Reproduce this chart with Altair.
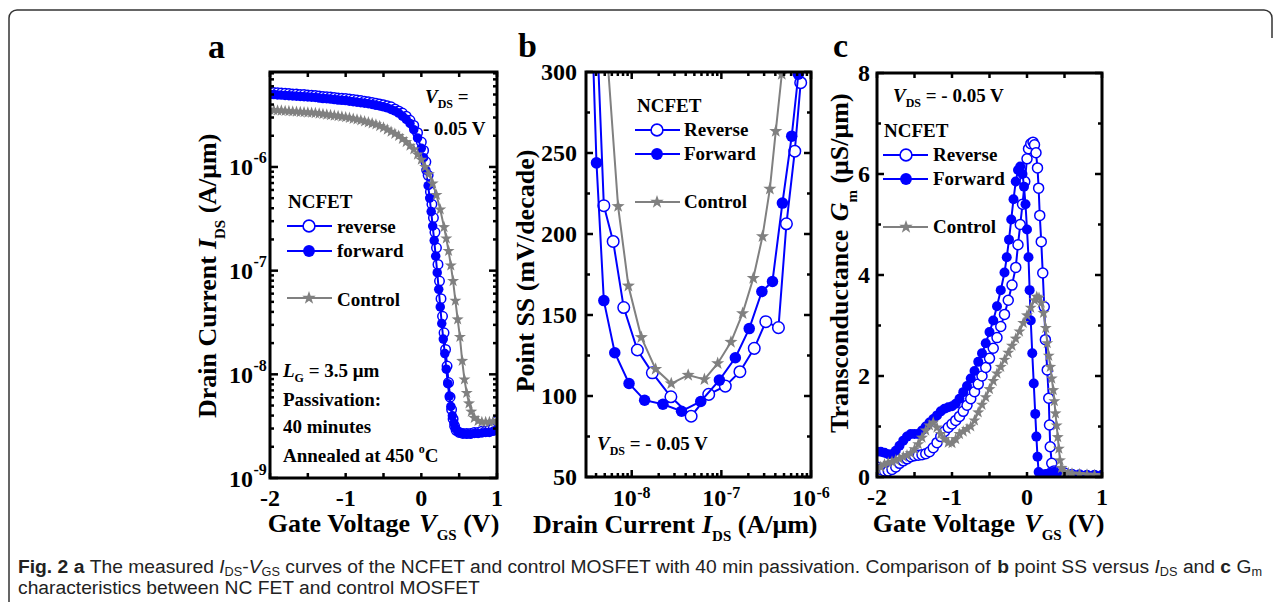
import math
import altair as alt
import pandas as pd

SERIF = "Liberation Serif"
SANS = "Liberation Sans"
BLUE = "#0000ff"
GRAY = "#808080"
STAR = "M0,-1L0.235,-0.324L0.951,-0.309L0.38,0.124L0.588,0.809L0,0.4L-0.588,0.809L-0.38,0.124L-0.951,-0.309L-0.235,-0.324Z"

# ---------------- panel a : log10(I_DS [A/um]) versus V_GS [V] ----------------
a_rev_v = [-2.0, -1.95, -1.9, -1.85, -1.8, -1.75, -1.7, -1.65, -1.6, -1.55,
           -1.5, -1.45, -1.4, -1.35, -1.3, -1.25, -1.2, -1.15, -1.1, -1.05,
           -1.0, -0.95, -0.9, -0.85, -0.8, -0.75, -0.7, -0.65, -0.6, -0.55, -0.5,
           -0.45, -0.4, -0.35, -0.3, -0.25, -0.2, -0.15, -0.1, -0.05, 0.0,
           0.03, 0.06, 0.09, 0.12, 0.14, 0.16, 0.18, 0.2, 0.22, 0.24,
           0.26, 0.28, 0.3, 0.32, 0.34, 0.36, 0.38, 0.4, 0.42, 0.44,
           0.46, 0.5, 0.55, 0.6, 0.65, 0.7, 0.75, 0.8, 0.85, 0.9, 0.95, 1.0]
a_rev_log = [-5.28, -5.282, -5.285, -5.287, -5.29, -5.292, -5.295, -5.297, -5.30, -5.302,
             -5.305, -5.307, -5.31, -5.315, -5.32, -5.322, -5.325, -5.33, -5.335, -5.337,
             -5.34, -5.345, -5.35, -5.355, -5.36, -5.365, -5.37, -5.377, -5.385, -5.392, -5.40,
             -5.41, -5.42, -5.44, -5.46, -5.48, -5.51, -5.55, -5.60, -5.67, -5.76,
             -5.84, -5.95, -6.08, -6.24, -6.36, -6.49, -6.63, -6.78, -6.94, -7.10,
             -7.27, -7.44, -7.60, -7.76, -7.92, -8.08, -8.22, -8.34, -8.43, -8.50,
             -8.54, -8.56, -8.57, -8.57, -8.57, -8.56, -8.56, -8.55, -8.55, -8.54, -8.52, -8.45]
a_fwd_v = [-2.0, -1.95, -1.9, -1.85, -1.8, -1.75, -1.7, -1.65, -1.6, -1.55,
           -1.5, -1.45, -1.4, -1.35, -1.3, -1.25, -1.2, -1.15, -1.1, -1.05,
           -1.0, -0.95, -0.9, -0.85, -0.8, -0.75, -0.7, -0.65, -0.6, -0.55, -0.5,
           -0.45, -0.4, -0.35, -0.3, -0.25, -0.2, -0.15, -0.1, -0.05, 0.0,
           0.03, 0.06, 0.09, 0.11, 0.13, 0.15, 0.17, 0.19, 0.21, 0.23,
           0.25, 0.27, 0.29, 0.31, 0.33, 0.35, 0.37, 0.39, 0.41, 0.43,
           0.45, 0.48, 0.5, 0.55, 0.6, 0.65, 0.7, 0.75, 0.8, 0.85, 0.9, 0.95, 1.0]
a_fwd_log = [-5.30, -5.302, -5.305, -5.307, -5.31, -5.312, -5.315, -5.317, -5.32, -5.322,
             -5.325, -5.327, -5.33, -5.335, -5.34, -5.342, -5.345, -5.35, -5.355, -5.357,
             -5.36, -5.365, -5.37, -5.375, -5.38, -5.385, -5.39, -5.397, -5.405, -5.412, -5.42,
             -5.43, -5.445, -5.46, -5.48, -5.51, -5.54, -5.58, -5.64, -5.72, -5.82,
             -5.91, -6.03, -6.18, -6.30, -6.43, -6.57, -6.71, -6.86, -7.02, -7.18,
             -7.35, -7.51, -7.66, -7.80, -7.95, -8.09, -8.21, -8.31, -8.40, -8.47,
             -8.52, -8.55, -8.56, -8.57, -8.575, -8.575, -8.57, -8.57, -8.565, -8.56, -8.56, -8.55, -8.53]
a_ctl_v = [-2.0, -1.95, -1.9, -1.85, -1.8, -1.75, -1.7, -1.65, -1.6, -1.55,
           -1.5, -1.45, -1.4, -1.35, -1.3, -1.25, -1.2, -1.15, -1.1, -1.05,
           -1.0, -0.95, -0.9, -0.85, -0.8, -0.75, -0.7, -0.65, -0.6, -0.55, -0.5,
           -0.45, -0.4, -0.35, -0.3, -0.25, -0.2, -0.15, -0.1, -0.05, 0.0,
           0.05, 0.1, 0.15, 0.2, 0.25, 0.3, 0.33, 0.36, 0.39, 0.42,
           0.45, 0.48, 0.51, 0.54, 0.57, 0.6, 0.63, 0.66, 0.7, 0.75,
           0.8, 0.85, 0.9, 0.95, 1.0]
a_ctl_log = [-5.45, -5.452, -5.455, -5.457, -5.46, -5.462, -5.465, -5.467, -5.47, -5.472,
             -5.475, -5.477, -5.48, -5.485, -5.49, -5.495, -5.50, -5.505, -5.51, -5.515,
             -5.52, -5.527, -5.535, -5.542, -5.55, -5.56, -5.57, -5.58, -5.59, -5.605, -5.62,
             -5.64, -5.66, -5.68, -5.70, -5.73, -5.76, -5.795, -5.83, -5.88, -5.93,
             -6.00, -6.07, -6.16, -6.27, -6.41, -6.58, -6.69, -6.81, -6.95, -7.10,
             -7.29, -7.47, -7.64, -7.87, -8.05, -8.18, -8.28, -8.36, -8.42, -8.45,
             -8.46, -8.46, -8.46, -8.455, -8.45]

# ---------------- panel b : point SS [mV/dec] versus log10(I_DS) ----------------
b_rev_log = [-8.37, -8.311, -8.207, -8.089, -7.937, -7.770, -7.563, -7.337, -7.141,
             -6.956, -6.793, -6.633, -6.504, -6.363, -6.274, -6.181, -6.115]
b_rev_ss = [312, 217.5, 195.4, 154.6, 128.4, 114.3, 99.5, 87.5, 101.0,
            106.1, 115.0, 129.4, 145.9, 142.2, 206.3, 251.1, 293.4]
b_fwd_log = [-8.426, -8.393, -8.311, -8.189, -8.030, -7.856, -7.652, -7.444, -7.230,
             -7.022, -6.844, -6.689, -6.548, -6.430, -6.319, -6.215, -6.141]
b_fwd_ss = [316, 243.9, 158.9, 126.7, 107.7, 97.4, 94.9, 90.6, 96.6,
            109.8, 123.6, 141.6, 164.5, 170.7, 219.1, 260.4, 298.6]
b_ctl_log = [-8.26, -8.152, -8.037, -7.893, -7.733, -7.559, -7.370, -7.189,
             -7.041, -6.893, -6.763, -6.644, -6.541, -6.459, -6.393, -6.326]
b_ctl_ss = [314, 217.1, 168.0, 136.2, 116.6, 107.7, 112.9, 110.2,
            120.1, 133.3, 151.0, 172.7, 198.5, 227.8, 263.5, 298.6]

# ---------------- panel c : G_m [uS/um] versus V_GS [V] ----------------
c_rev_v = [-2.0, -1.95, -1.9, -1.85, -1.8, -1.75, -1.7, -1.65, -1.6, -1.55,
           -1.5, -1.45, -1.4, -1.35, -1.3, -1.25, -1.2, -1.15, -1.1, -1.05,
           -1.0, -0.95, -0.9, -0.85, -0.8, -0.75, -0.7, -0.65, -0.6, -0.55,
           -0.5, -0.45, -0.4, -0.35, -0.3, -0.25, -0.2, -0.15,
           -0.12, -0.09, -0.06, -0.03, 0.0, 0.02, 0.05, 0.08, 0.1, 0.12,
           0.14, 0.155, 0.17, 0.19, 0.21, 0.23, 0.245, 0.27, 0.29, 0.30,
           0.31, 0.33, 0.36, 0.4, 0.45, 0.5, 0.6, 0.7, 0.8, 0.9, 1.0]
c_rev_gm = [0.2, 0.15, 0.12, 0.12, 0.15, 0.2, 0.27, 0.32, 0.36, 0.4,
            0.42, 0.43, 0.44, 0.46, 0.5, 0.58, 0.68, 0.8, 0.9, 0.98,
            1.05, 1.12, 1.2, 1.3, 1.42, 1.55, 1.69, 1.84, 2.0, 2.17,
            2.35, 2.55, 2.76, 2.98, 3.22, 3.5, 3.8, 4.15,
            4.6, 5.0, 5.4, 5.85, 6.3, 6.5, 6.6, 6.63, 6.58, 6.42,
            6.12, 5.72, 5.18, 4.66, 4.04, 3.37, 2.72, 2.12, 1.56, 1.03,
            0.6, 0.27, 0.12, 0.1, 0.1, 0.08, 0.05, 0.04, 0.03, 0.03, 0.03]
c_fwd_v = [-2.0, -1.95, -1.9, -1.85, -1.8, -1.75, -1.7, -1.65, -1.6, -1.55,
           -1.5, -1.45, -1.4, -1.35, -1.3, -1.25, -1.2, -1.15, -1.1, -1.05,
           -1.0, -0.95, -0.9, -0.85, -0.8, -0.75, -0.7, -0.65, -0.6, -0.55,
           -0.5, -0.45, -0.4, -0.35, -0.3,
           -0.27, -0.24, -0.21, -0.18, -0.15, -0.12, -0.09, -0.06, -0.04, -0.02,
           0.0, 0.02, 0.035, 0.05, 0.07, 0.09, 0.11, 0.125, 0.14, 0.155,
           0.2, 0.25, 0.3, 0.35, 0.4, 0.5, 0.6, 0.7, 0.8, 0.9, 1.0]
c_fwd_gm = [0.5, 0.5, 0.48, 0.45, 0.45, 0.52, 0.62, 0.72, 0.8, 0.85,
            0.85, 0.85, 0.92, 1.0, 1.08, 1.15, 1.22, 1.3, 1.35, 1.38,
            1.4, 1.45, 1.55, 1.68, 1.8, 1.95, 2.1, 2.28, 2.45, 2.65,
            2.87, 3.1, 3.38, 3.7, 4.05,
            4.35, 4.7, 5.1, 5.5, 5.85, 6.08, 6.15, 6.0, 5.75, 5.4,
            4.9, 4.35, 3.7, 3.1, 2.45, 1.85, 1.25, 0.8, 0.4, 0.1,
            0.05, 0.06, 0.08, 0.1, 0.07, 0.04, 0.03, 0.03, 0.03, 0.03, 0.03]
c_ctl_v = [-2.0, -1.95, -1.9, -1.85, -1.8, -1.75, -1.7, -1.65, -1.6, -1.55,
           -1.5, -1.45, -1.4, -1.35, -1.3, -1.25, -1.2, -1.15, -1.1, -1.05,
           -1.0, -0.95, -0.9, -0.85, -0.8, -0.75, -0.7, -0.65, -0.6, -0.55,
           -0.5, -0.45, -0.4, -0.35, -0.3, -0.25, -0.2, -0.15, -0.1, -0.05,
           0.0, 0.05, 0.1, 0.13, 0.16, 0.19, 0.22, 0.25, 0.27, 0.29,
           0.31, 0.33, 0.35, 0.365, 0.38, 0.395, 0.41, 0.425, 0.44, 0.46,
           0.5, 0.55, 0.6, 0.7, 0.8, 0.9, 1.0]
c_ctl_gm = [0.15, 0.2, 0.25, 0.28, 0.3, 0.33, 0.36, 0.4, 0.43, 0.47,
            0.55, 0.65, 0.78, 0.92, 1.02, 1.08, 0.98, 0.85, 0.75, 0.68,
            0.67, 0.75, 0.85, 0.9, 0.95, 1.0, 1.12, 1.28, 1.43, 1.58,
            1.74, 1.9, 2.05, 2.18, 2.32, 2.46, 2.6, 2.74, 2.88, 3.05,
            3.2, 3.35, 3.5, 3.57, 3.55, 3.45, 3.25, 2.95, 2.65, 2.4,
            2.18, 1.95, 1.72, 1.5, 1.26, 1.02, 0.79, 0.56, 0.33, 0.18,
            0.1, 0.08, 0.07, 0.06, 0.05, 0.04, 0.03]

# ---------------- tick labels ----------------
a_x_labels = [-2, -1, 0, 1]
a_y_decades = [-9, -8, -7, -6]
b_x_decades = [-8, -7, -6]
b_y_labels = [50, 100, 150, 200, 250, 300]
c_x_labels = [-2, -1, 0, 1]
c_y_labels = [0, 2, 4, 6, 8]

# ---------------- scales (explicit pixel ranges per panel) ----------------
A_TOP = -5.084
A_X = alt.Scale(domain=[-2, 1], range=[262, 489], nice=False, zero=False)
A_Y = alt.Scale(domain=[-9, A_TOP], range=[470, 64], nice=False, zero=False)
B_X = alt.Scale(domain=[-8.51, -6.0], range=[578, 803], nice=False, zero=False)
B_Y = alt.Scale(domain=[50, 300], range=[469, 64], nice=False, zero=False, clamp=True)
C_X = alt.Scale(domain=[-2, 1], range=[869, 1094], nice=False, zero=False)
C_Y = alt.Scale(domain=[0, 8], range=[469, 65], nice=False, zero=False)

PANELS = {
    "a": dict(xs=A_X, ys=A_Y, x0=262, x1=489, y0=470, y1=64, xd=(-2, 1), yd=(-9, A_TOP)),
    "b": dict(xs=B_X, ys=B_Y, x0=578, x1=803, y0=469, y1=64, xd=(-8.51, -6.0), yd=(50, 300)),
    "c": dict(xs=C_X, ys=C_Y, x0=869, x1=1094, y0=469, y1=65, xd=(-2, 1), yd=(0, 8)),
}


def series(xv, yv, xs, ys, kind, size, filt=None):
    df = pd.DataFrame({"x": xv, "y": yv})
    base = alt.Chart(df).encode(
        x=alt.X("x:Q", scale=xs, axis=None),
        y=alt.Y("y:Q", scale=ys, axis=None),
    )
    color = GRAY if kind == "star" else BLUE
    out = [base.mark_line(color=color, strokeWidth=2)]
    pts = base.transform_filter(filt) if filt else base
    if kind == "open":
        out.append(pts.mark_point(shape="circle", filled=True, fill="white", stroke=BLUE,
                                  strokeWidth=1.5, size=size, opacity=1))
    elif kind == "filled":
        out.append(pts.mark_point(shape="circle", filled=True, fill=BLUE, size=size, opacity=1))
    else:
        out.append(pts.mark_point(shape=STAR, filled=True, fill=GRAY, strokeWidth=0,
                                  size=size, opacity=1))
    return out


data_layers = []
data_layers += series(a_rev_v, a_rev_log, A_X, A_Y, "open", 90)
data_layers += series(a_fwd_v, a_fwd_log, A_X, A_Y, "filled", 90)
data_layers += series(a_ctl_v, a_ctl_log, A_X, A_Y, "star", 160)
data_layers += series(b_rev_log, b_rev_ss, B_X, B_Y, "open", 133, "datum.y <= 300")
data_layers += series(b_fwd_log, b_fwd_ss, B_X, B_Y, "filled", 133, "datum.y <= 300")
data_layers += series(b_ctl_log, b_ctl_ss, B_X, B_Y, "star", 190, "datum.y <= 300")
data_layers += series(c_rev_v, c_rev_gm, C_X, C_Y, "open", 100)
data_layers += series(c_fwd_v, c_fwd_gm, C_X, C_Y, "filled", 100)
data_layers += series(c_ctl_v, c_ctl_gm, C_X, C_Y, "star", 160)

# white masks that clip markers at the plot edges (and the lower right part of the figure box)
masks = pd.DataFrame([
    dict(x=248, x2=262, y=56, y2=478), dict(x=489, x2=502, y=56, y2=478),
    dict(x=570, x2=811, y=48, y2=64),
    dict(x=856, x2=869, y=56, y2=478), dict(x=1094, x2=1108, y=56, y2=478),
    dict(x=856, x2=1108, y=469, y2=479),
])
mask_layer = alt.Chart(masks).mark_rect(color="white").encode(
    x=alt.X("x:Q", scale=None), x2="x2:Q", y=alt.Y("y:Q", scale=None), y2="y2:Q")

# frames and ticks
axis_layers = []
for key, p in PANELS.items():
    fr = pd.DataFrame([dict(x=p["xd"][0], x2=p["xd"][1], y=p["yd"][0], y2=p["yd"][1])])
    axis_layers.append(alt.Chart(fr).mark_rect(fillOpacity=0, stroke="black", strokeWidth=3).encode(
        x=alt.X("x:Q", scale=p["xs"], axis=None), x2="x2:Q",
        y=alt.Y("y:Q", scale=p["ys"], axis=None), y2="y2:Q"))


def xticks(vals, p, length):
    df = pd.DataFrame({"t": vals})
    enc = dict(x=alt.X("t:Q", scale=p["xs"], axis=None))
    bot = alt.Chart(df).mark_rule(color="black", strokeWidth=2.5).encode(
        y=alt.value(p["y0"]), y2=alt.value(p["y0"] - length), **enc)
    top = alt.Chart(df).mark_rule(color="black", strokeWidth=2.5).encode(
        y=alt.value(p["y1"]), y2=alt.value(p["y1"] + length), **enc)
    return [bot, top]


def yticks(vals, p, length):
    df = pd.DataFrame({"t": vals})
    enc = dict(y=alt.Y("t:Q", scale=p["ys"], axis=None))
    left = alt.Chart(df).mark_rule(color="black", strokeWidth=2.5).encode(
        x=alt.value(p["x0"]), x2=alt.value(p["x0"] + length), **enc)
    right = alt.Chart(df).mark_rule(color="black", strokeWidth=2.5).encode(
        x=alt.value(p["x1"]), x2=alt.value(p["x1"] - length), **enc)
    return [left, right]


pa, pb, pc = PANELS["a"], PANELS["b"], PANELS["c"]
axis_layers += xticks([-2, -1.5, -1, -0.5, 0, 0.5, 1], pa, 5)
axis_layers += yticks(a_y_decades, pa, 8)
a_minor = [n + math.log10(k) for n in a_y_decades for k in range(2, 10) if n + math.log10(k) < A_TOP]
axis_layers += yticks(a_minor, pa, 4)
axis_layers += xticks(b_x_decades, pb, 7)
b_minor = [n + math.log10(k) for n in [-9, -8, -7] for k in range(2, 10)
           if -8.51 < n + math.log10(k) < -6.0]
axis_layers += xticks(b_minor, pb, 4)
axis_layers += yticks(b_y_labels, pb, 7)
axis_layers += yticks([75, 125, 175, 225, 275], pb, 4)
axis_layers += xticks([-2, -1.5, -1, -0.5, 0, 0.5, 1], pc, 5)
axis_layers += yticks(c_y_labels, pc, 7)
axis_layers += yticks([1, 3, 5, 7], pc, 4)

# tick labels
TL = dict(font=SERIF, fontWeight="bold", color="black")


def lab(df, **kw):
    return alt.Chart(df).mark_text(**TL, **kw)


axis_layers.append(lab(pd.DataFrame({"t": a_x_labels, "s": [str(v) for v in a_x_labels]}),
                       fontSize=24, align="center", baseline="middle").encode(
    x=alt.X("t:Q", scale=A_X, axis=None), y=alt.value(491), text="s:N"))
dfa = pd.DataFrame({"t": a_y_decades, "b": ["10"] * 4, "s": [str(v) for v in a_y_decades]})
axis_layers.append(lab(dfa, fontSize=24, align="right", baseline="middle", dy=1.5).encode(
    y=alt.Y("t:Q", scale=A_Y, axis=None), x=alt.value(245), text="b:N"))
axis_layers.append(lab(dfa, fontSize=16, align="left", baseline="middle", dy=-8.5).encode(
    y=alt.Y("t:Q", scale=A_Y, axis=None), x=alt.value(245.5), text="s:N"))
dfb = pd.DataFrame({"t": b_x_decades, "b": ["10"] * 3, "s": [str(v) for v in b_x_decades]})
axis_layers.append(lab(dfb, fontSize=24, align="right", baseline="middle", dx=5).encode(
    x=alt.X("t:Q", scale=B_X, axis=None), y=alt.value(491), text="b:N"))
axis_layers.append(lab(dfb, fontSize=16, align="left", baseline="middle", dx=5.5).encode(
    x=alt.X("t:Q", scale=B_X, axis=None), y=alt.value(485), text="s:N"))
axis_layers.append(lab(pd.DataFrame({"t": b_y_labels, "s": [str(v) for v in b_y_labels]}),
                       fontSize=24, align="right", baseline="middle", dy=1).encode(
    y=alt.Y("t:Q", scale=B_Y, axis=None), x=alt.value(569), text="s:N"))
axis_layers.append(lab(pd.DataFrame({"t": c_x_labels, "s": [str(v) for v in c_x_labels]}),
                       fontSize=24, align="center", baseline="middle").encode(
    x=alt.X("t:Q", scale=C_X, axis=None), y=alt.value(490), text="s:N"))
axis_layers.append(lab(pd.DataFrame({"t": c_y_labels, "s": [str(v) for v in c_y_labels]}),
                       fontSize=24, align="right", baseline="middle", dy=1).encode(
    y=alt.Y("t:Q", scale=C_Y, axis=None), x=alt.value(862), text="s:N"))

# ---------------- rich text (titles, annotations, caption) ----------------
TB = {}
for ch, w in zip("abcdefghijklmnopqrstuvwxyz",
                 [500, 556, 444, 556, 444, 333, 500, 556, 278, 333, 556, 278, 833,
                  556, 500, 556, 556, 444, 389, 333, 556, 500, 722, 500, 500, 444]):
    TB[ch] = w
for ch, w in zip("ABCDEFGHIJKLMNOPQRSTUVWXYZ",
                 [722, 667, 722, 722, 667, 611, 778, 778, 389, 500, 778, 667, 944,
                  722, 778, 611, 778, 722, 556, 667, 722, 722, 1000, 722, 722, 667]):
    TB[ch] = w
for ch in "0123456789":
    TB[ch] = 500
TB.update({" ": 250, "(": 333, ")": 333, "/": 278, "-": 333, ".": 250, ":": 333,
           "=": 570, "μ": 556, "°": 400})
TBI = dict(TB)
TBI.update({"I": 389, "V": 667, "G": 722, "L": 611, "D": 722, "S": 556})
AR = {}
for ch, w in zip("abcdefghijklmnopqrstuvwxyz",
                 [556, 556, 500, 556, 556, 278, 556, 556, 222, 222, 500, 222, 833,
                  556, 556, 556, 556, 333, 500, 278, 556, 500, 722, 500, 500, 500]):
    AR[ch] = w
for ch, w in zip("ABCDEFGHIJKLMNOPQRSTUVWXYZ",
                 [667, 667, 722, 722, 667, 611, 778, 722, 278, 500, 667, 556, 833,
                  722, 778, 667, 778, 722, 667, 611, 722, 667, 944, 667, 667, 611]):
    AR[ch] = w
for ch in "0123456789":
    AR[ch] = 556
AR.update({" ": 278, ".": 278, ",": 278, "-": 333})
AB = dict(AR)
AB.update({"a": 556, "b": 611, "c": 556, "g": 611, "i": 278, "F": 611})
METRICS = {"b": TB, "bi": TBI, "r": AR, "sb": AB, "si": AR}
STYLE = {
    "b": dict(font=SERIF, fontWeight="bold", color="black"),
    "bi": dict(font=SERIF, fontWeight="bold", fontStyle="italic", color="black"),
    "r": dict(font=SANS, fontWeight="normal", color="#222222"),
    "sb": dict(font=SANS, fontWeight="bold", color="#222222"),
    "si": dict(font=SANS, fontWeight="normal", fontStyle="italic", color="#222222"),
}


def twidth(text, style, size):
    tab = METRICS[style]
    return sum(tab.get(c, 500) for c in text) * size / 1000.0


rows = []


def add_runs(x, y, parts, angle=0, anchor="left"):
    total = sum(twidth(t, st, sz) for t, sz, st, sh in parts)
    if anchor == "center":
        start = x - total / 2 if angle == 0 else y + total / 2
    else:
        start = x if angle == 0 else y
    pos = 0.0
    for t, sz, st, sh in parts:
        lead = len(t) - len(t.lstrip(" "))
        lead_w = twidth(" " * lead, st, sz)
        txt = t.strip(" ")
        if txt:
            if angle == 0:
                rows.append(dict(x=start + pos + lead_w, y=y + sh, text=txt, size=sz, style=st, angle=0))
            else:
                rows.append(dict(x=x + sh, y=start - pos - lead_w, text=txt, size=sz, style=st, angle=angle))
        pos += twidth(t, st, sz)


# panel letters
add_runs(200, 50, [("a", 34, "b", 0)])
add_runs(510, 49, [("b", 34, "b", 0)])
add_runs(825, 49, [("c", 34, "b", 0)])

# axis titles
add_runs(208, 268, [("Drain Current ", 26, "b", 0), ("I", 26, "bi", 0), ("DS", 15, "b", 9),
                    (" (A/μm)", 26, "b", 0)], angle=270, anchor="center")
add_runs(375.5, 524, [("Gate Voltage ", 26, "b", 0), ("V", 26, "bi", 0), ("GS", 15, "b", 8),
                      (" (V)", 26, "b", 0)], anchor="center")
add_runs(526, 263, [("Point SS (mV/decade)", 26, "b", 0)], angle=270, anchor="center")
add_runs(525, 525, [("Drain Current ", 26, "b", 0), ("I", 26, "bi", 0), ("DS", 15, "b", 8),
                    (" (A/μm)", 26, "b", 0)])
add_runs(840, 255.5, [("Transconductance ", 26, "b", 0), ("G", 26, "bi", 0), ("m", 15, "b", 9),
                      (" (μS/μm)", 26, "b", 0)], angle=270, anchor="center")
add_runs(980.5, 524, [("Gate Voltage ", 26, "b", 0), ("V", 26, "bi", 0), ("GS", 15, "b", 8),
                      (" (V)", 26, "b", 0)], anchor="center")

# panel a annotations
add_runs(417, 95, [("V", 19, "bi", 0), ("DS", 12, "b", 5), (" =", 19, "b", 0)])
add_runs(415, 127, [("- 0.05 V", 19, "b", 0)])
add_runs(280, 200, [("NCFET", 19, "b", 0)])
add_runs(329, 225, [("reverse", 19, "b", 0)])
add_runs(329, 249, [("forward", 19, "b", 0)])
add_runs(329, 298, [("Control", 19, "b", 0)])
add_runs(275, 369, [("L", 19, "bi", 0), ("G", 12, "b", 5), (" = 3.5 μm", 19, "b", 0)])
add_runs(275, 398, [("Passivation:", 19, "b", 0)])
add_runs(275, 425, [("40 minutes", 19, "b", 0)])
add_runs(275, 454, [("Annealed at 450 ", 19, "b", 0), ("o", 12, "b", -9), ("C", 19, "b", 0)])
# panel b annotations
add_runs(629, 104, [("NCFET", 19, "b", 0)])
add_runs(676, 128, [("Reverse", 19, "b", 0)])
add_runs(676, 152, [("Forward", 19, "b", 0)])
add_runs(676, 200, [("Control", 19, "b", 0)])
add_runs(589, 442, [("V", 19, "bi", 0), ("DS", 12, "b", 5), (" = - 0.05 V", 19, "b", 0)])
# panel c annotations
add_runs(885, 94, [("V", 19, "bi", 0), ("DS", 12, "b", 5), (" = - 0.05 V", 19, "b", 0)])
add_runs(876, 129, [("NCFET", 19, "b", 0)])
add_runs(925, 153, [("Reverse", 19, "b", 0)])
add_runs(925, 177, [("Forward", 19, "b", 0)])
add_runs(925, 225, [("Control", 19, "b", 0)])

# caption
cap1 = [("Fig. 2", "sb"), (" ", "r"), ("a", "sb"), (" The measured ", "r"), ("I", "si"), ("DS", "sub"),
        ("-", "r"), ("V", "si"), ("GS", "sub"),
        (" curves of the NCFET and control MOSFET with 40 min passivation. Comparison of ", "r"),
        ("b", "sb"), (" point SS versus ", "r"), ("I", "si"), ("DS", "sub"), (" and ", "r"),
        ("c", "sb"), (" G", "r"), ("m", "sub")]
SUBF = 0.66
units = sum(twidth(t, "r" if s == "sub" else s, 1000) * (SUBF if s == "sub" else 1.0) for t, s in cap1)
CAP = 1244.0 / units * 1000.0
add_runs(10, 565, [(t, CAP * (SUBF if s == "sub" else 1.0), "r" if s == "sub" else s,
                    3 if s == "sub" else 0) for t, s in cap1])
add_runs(10, 586, [("characteristics between NC FET and control MOSFET", CAP, "r", 0)])

text_df = pd.DataFrame(rows)
text_layers = []
for (st, ang), g in text_df.groupby(["style", "angle"]):
    kw = dict(STYLE[st])
    if ang:
        kw["angle"] = int(ang)
    text_layers.append(alt.Chart(g).mark_text(align="left", baseline="alphabetic", **kw).encode(
        x=alt.X("x:Q", scale=None), y=alt.Y("y:Q", scale=None), text="text:N",
        size=alt.Size("size:Q", scale=None)))

# legend glyphs
leg_lines = pd.DataFrame([
    dict(x=279, x2=324, y=218, c=BLUE), dict(x=279, x2=324, y=243, c=BLUE), dict(x=279, x2=324, y=290, c=GRAY),
    dict(x=627, x2=672, y=122, c=BLUE), dict(x=627, x2=672, y=146, c=BLUE), dict(x=627, x2=672, y=194, c=GRAY),
    dict(x=875, x2=920, y=147, c=BLUE), dict(x=875, x2=920, y=171, c=BLUE), dict(x=875, x2=920, y=219, c=GRAY),
])
legend_layers = [alt.Chart(leg_lines).mark_rule(strokeWidth=2.2).encode(
    x=alt.X("x:Q", scale=None), x2="x2:Q", y=alt.Y("y:Q", scale=None),
    color=alt.Color("c:N", scale=None))]
leg_open = pd.DataFrame([dict(x=301, y=218), dict(x=649, y=122), dict(x=898, y=147)])
leg_fill = pd.DataFrame([dict(x=301, y=243), dict(x=649, y=146), dict(x=898, y=171)])
leg_star = pd.DataFrame([dict(x=301, y=290), dict(x=649, y=194), dict(x=898, y=219)])
penc = dict(x=alt.X("x:Q", scale=None), y=alt.Y("y:Q", scale=None))
legend_layers.append(alt.Chart(leg_open).mark_point(shape="circle", filled=True, fill="white", stroke=BLUE,
                                                    strokeWidth=1.6, size=140, opacity=1).encode(**penc))
legend_layers.append(alt.Chart(leg_fill).mark_point(shape="circle", filled=True, fill=BLUE,
                                                    size=140, opacity=1).encode(**penc))
legend_layers.append(alt.Chart(leg_star).mark_point(shape=STAR, filled=True, fill=GRAY, strokeWidth=0,
                                                    size=200, opacity=1).encode(**penc))

# figure border (top edge with rounded corners and the left edge)
border = alt.Chart(pd.DataFrame([dict(x=1, x2=1264, y=2, y2=700)])).mark_rect(
    fillOpacity=0, stroke="#333333", strokeWidth=1.5, cornerRadius=8).encode(
    x=alt.X("x:Q", scale=None), x2="x2:Q", y=alt.Y("y:Q", scale=None), y2="y2:Q")
border_cut = alt.Chart(pd.DataFrame([dict(x=1258, x2=1266, y=30, y2=600)])).mark_rect(color="white").encode(
    x=alt.X("x:Q", scale=None), x2="x2:Q", y=alt.Y("y:Q", scale=None), y2="y2:Q")

chart = alt.layer(*(data_layers + [mask_layer] + axis_layers + text_layers + legend_layers
                    + [border, border_cut])).resolve_scale(
    x="independent", y="independent", size="independent", color="independent"
).properties(width=1265, height=594, padding=0, autosize="none").configure_view(stroke="transparent")

chart.save("out.html", embed_options={"renderer": "svg", "actions": False})
